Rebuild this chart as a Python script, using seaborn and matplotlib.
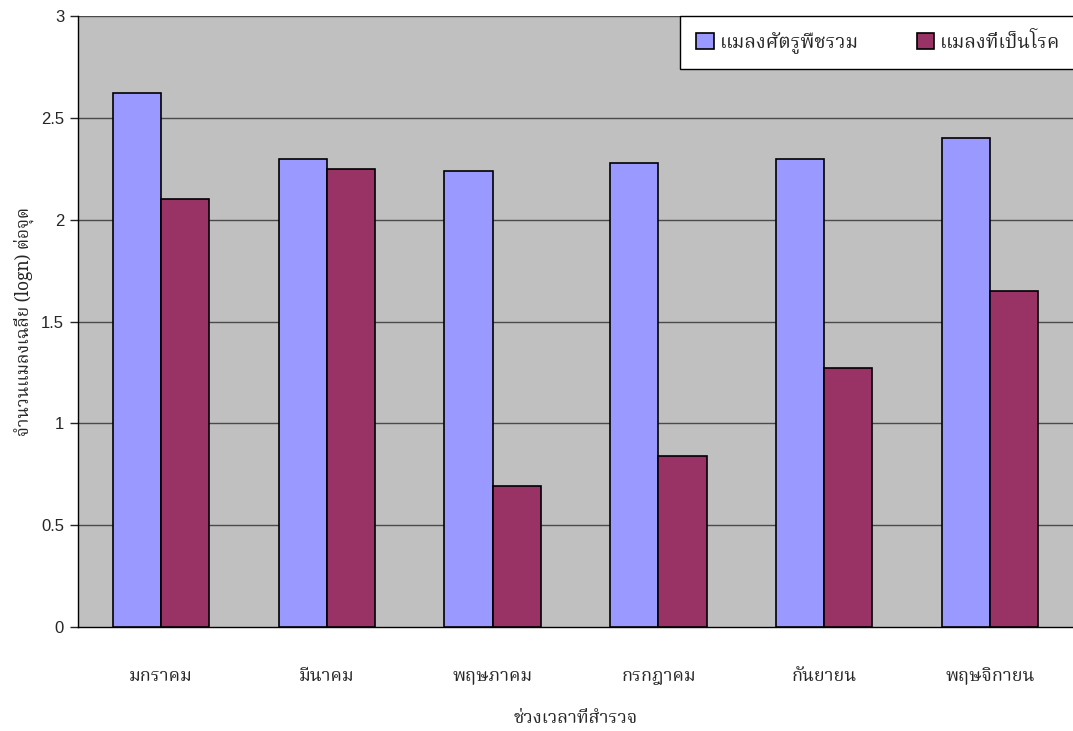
import pandas as pd
import seaborn as sns
import matplotlib.pyplot as plt
import numpy as np

# %%
months = ["มกราคม", "มีนาคม", "พฤษภาคม", "กรกฎาคม", "กันยายน", "พฤษจิกายน"]
series = ["แมลงศัตรูพืชรวม", "แมลงที่เป็นโรค"]
total_pests = [2.62, 2.30, 2.24, 2.28, 2.30, 2.40]
diseased = [2.10, 2.25, 0.69, 0.84, 1.27, 1.65]
yticks = [0, 0.5, 1, 1.5, 2, 2.5, 3]
ytick_labels = ["0", "0.5", "1", "1.5", "2", "2.5", "3"]

df = pd.DataFrame(
    {
        "month": months * 2,
        "value": total_pests + diseased,
        "series": [series[0]] * len(months) + [series[1]] * len(months),
    }
)

# %%
sns.set_style("white")
thai = ["Noto Serif Thai", "Noto Sans Thai", "Liberation Serif", "DejaVu Sans"]
plt.rcParams["font.family"] = thai

fig = plt.figure(figsize=(10.73, 7.31), dpi=100)
ax = fig.add_axes([0.0727, 0.1423, 0.9273, 0.8357])
ax.set_facecolor("#C0C0C0")

sns.barplot(
    data=df,
    x="month",
    y="value",
    hue="series",
    palette=["#9999FF", "#993366"],
    saturation=1,
    width=0.58,
    edgecolor="black",
    linewidth=1.2,
    ax=ax,
    zorder=3,
)

ax.set_ylim(0, 3)
ax.set_xlim(-0.5, 5.5)
ax.set_yticks(yticks)
ax.set_yticklabels(ytick_labels, family=["Liberation Sans"], fontsize=12)
for y in yticks[1:]:
    ax.axhline(y, color="#4a4a4a", linewidth=1.0, zorder=1)

# tick marks at category boundaries, labels at centres
ax.set_xticks(np.arange(-0.5, 6, 1), minor=True)
ax.tick_params(axis="x", which="major", length=0, pad=29, labelsize=13)
ax.tick_params(axis="x", which="minor", length=6, width=1, color="#555555", direction="out")
ax.tick_params(axis="y", length=6, width=1, direction="out", left=True, pad=4)

for s in ["top", "right"]:
    ax.spines[s].set_visible(False)
ax.spines["left"].set_color("black")
ax.spines["bottom"].set_color("black")
ax.spines["left"].set_linewidth(1.0)
ax.spines["bottom"].set_linewidth(1.0)

ax.set_xlabel("ช่วงเวลาที่สำรวจ", fontsize=13, labelpad=17)
ax.set_ylabel("จำนวนแมลงเฉลี่ย (logn) ต่อจุด", fontsize=12.5, labelpad=5)

leg = ax.legend(
    loc="upper right",
    bbox_to_anchor=(1.003, 1.0),
    ncol=2,
    frameon=True,
    fancybox=False,
    framealpha=1,
    fontsize=14,
    handlelength=0.9,
    handleheight=0.9,
    columnspacing=3.0,
    handletextpad=0.3,
    borderpad=0.8,
    borderaxespad=0,
)
leg.get_frame().set_edgecolor("black")
leg.get_frame().set_linewidth(1.0)
leg.get_frame().set_facecolor("white")

# %%
fig.savefig("out.png", dpi=100)
